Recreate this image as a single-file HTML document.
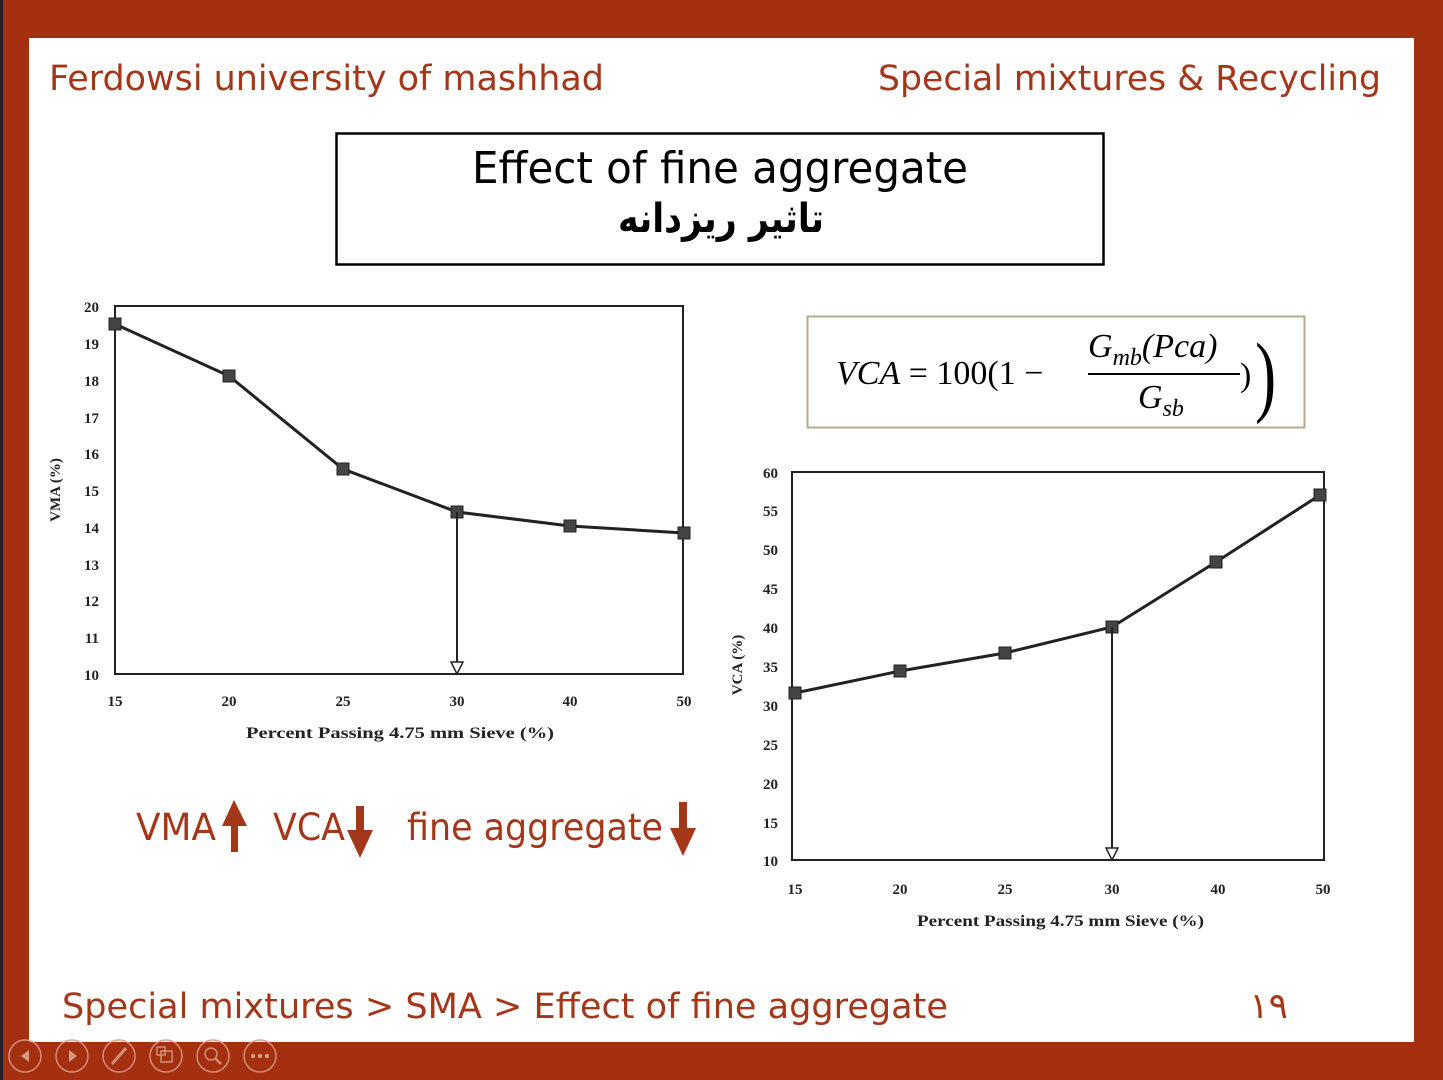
<!DOCTYPE html>
<html><head><meta charset="utf-8"><style>
html,body{margin:0;padding:0;background:#a5300f;}
svg{display:block}
</style></head><body>
<svg width="1443" height="1080" viewBox="0 0 1443 1080" xmlns="http://www.w3.org/2000/svg">
<rect x="0" y="0" width="1443" height="1080" fill="#a5300f"/>
<rect x="0" y="0" width="3" height="1080" fill="#222"/>
<rect x="29" y="38" width="1385" height="1004" fill="#fff"/>
<g font-family="DejaVu Sans, sans-serif" fill="#a3371a">
<text x="49" y="90" font-size="35" textLength="555" lengthAdjust="spacingAndGlyphs">Ferdowsi university of mashhad</text>
<text x="878" y="90" font-size="35" textLength="503" lengthAdjust="spacingAndGlyphs">Special mixtures &amp; Recycling</text>
<text x="62" y="1018" font-size="35" textLength="886" lengthAdjust="spacingAndGlyphs">Special mixtures &gt; SMA &gt; Effect of fine aggregate</text>
<text x="1288" y="1018" font-size="36" text-anchor="end" font-family="DejaVu Sans, 'Noto Sans CJK SC', sans-serif">١٩</text>
<text x="136" y="840" font-size="37" textLength="80" lengthAdjust="spacingAndGlyphs">VMA</text>
<text x="273" y="840" font-size="37" textLength="72" lengthAdjust="spacingAndGlyphs">VCA</text>
<text x="407" y="840" font-size="37" textLength="256" lengthAdjust="spacingAndGlyphs">fine aggregate</text>
</g>
<g fill="#a3371a">
<polygon points="234,800 222,826 231,826 231,852 238,852 238,826 247,826"/>
<polygon points="360,858 347,830 356,830 356,806 364,806 364,830 373,830"/>
<polygon points="683,856 670,828 679,828 679,802 687,802 687,828 696,828"/>
</g>
<rect x="336.5" y="133.5" width="767" height="131" fill="#fff" stroke="#000" stroke-width="2.5"/>
<text x="472" y="183" font-family="DejaVu Sans, sans-serif" font-size="44" fill="#000" textLength="496" lengthAdjust="spacingAndGlyphs">Effect of fine aggregate</text>
<text x="618" y="232" font-family="DejaVu Sans, 'Noto Sans CJK SC', sans-serif" font-size="40" font-weight="bold" fill="#000" textLength="206" lengthAdjust="spacingAndGlyphs">تاثیر ریزدانه</text>
<rect x="807.5" y="316.5" width="497" height="111" fill="#fff" stroke="#b3ad8f" stroke-width="2"/>
<g font-family="Liberation Serif, serif" font-size="34" fill="#000">
<text x="836" y="384"><tspan font-style="italic">VCA</tspan> = 100(1 −</text>
<text x="1088" y="357" font-style="italic">G<tspan font-size="24" dy="8">mb</tspan><tspan dy="-8">(Pca)</tspan></text>
<line x1="1088" y1="374" x2="1240" y2="374" stroke="#000" stroke-width="2"/>
<text x="1138" y="408" font-style="italic">G<tspan font-size="24" dy="8">sb</tspan></text>
<text x="1240" y="386">)</text>
<text x="1255" y="405" font-size="90" transform="scale(0.7,1) translate(538,0)">)</text>
</g>
<g font-family="Liberation Serif, serif" font-weight="bold" font-size="15" fill="#222">
<rect x="115" y="306" width="568" height="368" fill="none" stroke="#222" stroke-width="2"/>
<g text-anchor="end">
<text x="99" y="312">20</text><text x="99" y="349">19</text><text x="99" y="386">18</text><text x="99" y="423">17</text><text x="99" y="459">16</text><text x="99" y="496">15</text><text x="99" y="533">14</text><text x="99" y="570">13</text><text x="99" y="606">12</text><text x="99" y="643">11</text><text x="99" y="680">10</text>
</g>
<g text-anchor="middle">
<text x="115" y="706">15</text><text x="229" y="706">20</text><text x="343" y="706">25</text><text x="457" y="706">30</text><text x="570" y="706">40</text><text x="684" y="706">50</text>
</g>
<text x="246" y="738" font-size="16" textLength="308" lengthAdjust="spacingAndGlyphs">Percent Passing 4.75 mm Sieve (%)</text>
<text transform="translate(60,490) rotate(-90)" text-anchor="middle" font-size="15">VMA (%)</text>
<polyline points="115,324 229,376 343,469 457,512 570,526 684,533" fill="none" stroke="#222" stroke-width="3"/>
<g fill="#444" stroke="#222" stroke-width="1">
<rect x="109" y="318" width="12" height="12"/><rect x="223" y="370" width="12" height="12"/><rect x="337" y="463" width="12" height="12"/><rect x="451" y="506" width="12" height="12"/><rect x="564" y="520" width="12" height="12"/><rect x="678" y="527" width="12" height="12"/>
</g>
<line x1="457" y1="512" x2="457" y2="664" stroke="#222" stroke-width="2"/>
<polygon points="451,662 463,662 457,674" fill="#fff" stroke="#222" stroke-width="1.5"/>
</g>
<g font-family="Liberation Serif, serif" font-weight="bold" font-size="15" fill="#222">
<rect x="792" y="472" width="532" height="388" fill="none" stroke="#222" stroke-width="2"/>
<g text-anchor="end">
<text x="778" y="478">60</text><text x="778" y="516">55</text><text x="778" y="555">50</text><text x="778" y="594">45</text><text x="778" y="633">40</text><text x="778" y="672">35</text><text x="778" y="711">30</text><text x="778" y="750">25</text><text x="778" y="789">20</text><text x="778" y="828">15</text><text x="778" y="866">10</text>
</g>
<g text-anchor="middle">
<text x="795" y="894">15</text><text x="900" y="894">20</text><text x="1005" y="894">25</text><text x="1112" y="894">30</text><text x="1218" y="894">40</text><text x="1323" y="894">50</text>
</g>
<text x="917" y="926" font-size="16" textLength="287" lengthAdjust="spacingAndGlyphs">Percent Passing 4.75 mm Sieve (%)</text>
<text transform="translate(742,665) rotate(-90)" text-anchor="middle" font-size="15">VCA (%)</text>
<polyline points="795,693 900,671 1005,653 1112,627 1216,562 1320,495" fill="none" stroke="#222" stroke-width="3"/>
<g fill="#444" stroke="#222" stroke-width="1">
<rect x="789" y="687" width="12" height="12"/><rect x="894" y="665" width="12" height="12"/><rect x="999" y="647" width="12" height="12"/><rect x="1106" y="621" width="12" height="12"/><rect x="1210" y="556" width="12" height="12"/><rect x="1314" y="489" width="12" height="12"/>
</g>
<line x1="1112" y1="627" x2="1112" y2="850" stroke="#222" stroke-width="2"/>
<polygon points="1106,848 1118,848 1112,860" fill="#fff" stroke="#222" stroke-width="1.5"/>
</g>
<g fill="none" stroke="#d79a85" stroke-width="1.5" opacity="0.9">
<circle cx="25" cy="1056" r="16"/><circle cx="72" cy="1056" r="16"/><circle cx="119" cy="1056" r="16"/><circle cx="166" cy="1056" r="16"/><circle cx="213" cy="1056" r="16"/><circle cx="260" cy="1056" r="16"/>
<line x1="112" y1="1064" x2="126" y2="1048" stroke-width="3"/>
<rect x="161" y="1051" width="11" height="11"/><rect x="157" y="1047" width="8" height="8"/>
<circle cx="211" cy="1054" r="6"/><line x1="215" y1="1058" x2="221" y2="1064" stroke-width="2.5"/>
</g>
<g fill="#d79a85">
<polygon points="29,1050 29,1062 21,1056"/><polygon points="69,1050 69,1062 77,1056"/>
<circle cx="253" cy="1056" r="2.2"/><circle cx="260" cy="1056" r="2.2"/><circle cx="267" cy="1056" r="2.2"/>
</g>
</svg>
</body></html>
